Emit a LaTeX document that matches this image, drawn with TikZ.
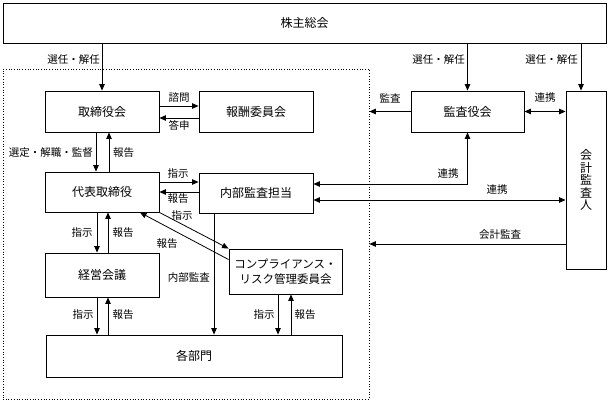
\documentclass[tikz,border=0pt]{standalone}
\usepackage{fontspec}
\setmainfont{Noto Sans CJK JP}
\usetikzlibrary{arrows.meta,calc}
\begin{document}
\begin{tikzpicture}[x=1pt,y=-1pt,
  box/.style={draw, line width=0.9pt, inner sep=0pt, font=\fontsize{12}{14}\selectfont},
  lbl/.style={font=\fontsize{10.5}{12}\selectfont, inner sep=1pt},
  arr/.style={line width=0.8pt, -{Triangle[length=6.5pt,width=5.5pt]}},
  darr/.style={line width=0.8pt, {Triangle[length=6.5pt,width=5.5pt]}-{Triangle[length=6.5pt,width=5.5pt]}}]
\useasboundingbox (0,0) rectangle (610,401);
% group
\node[draw, dotted, line width=0.7pt, minimum width=366, minimum height=330, inner sep=0pt] (grp) at (186,234) {};
% boxes
\node[box, minimum width=603, minimum height=40] (top) at (304.5,23) {株主総会};
\node[box, minimum width=114, minimum height=41] (bd) at (102,111.5) {取締役会};
\node[box, minimum width=114, minimum height=41] (rem) at (256,111.5) {報酬委員会};
\node[box, minimum width=114, minimum height=40] (ceo) at (102,192) {代表取締役};
\node[box, minimum width=114, minimum height=40] (ia) at (256,193) {内部監査担当};
\node[box, minimum width=114, minimum height=44] (mgmt) at (102,275) {経営会議};
\node[box, minimum width=113, minimum height=45, align=center, font=\fontsize{11.5}{15}\selectfont] (comp) at (285.5,271.5) {コンプライアンス・\\リスク管理委員会};
\node[box, minimum width=296, minimum height=42] (depts) at (194,356) {各部門};
\node[box, minimum width=113, minimum height=41] (aud) at (467.5,111.5) {監査役会};
\node[box, minimum width=40, minimum height=178, align=center, font=\fontsize{12}{12.5}\selectfont] (ext) at (586,180) {会\\計\\監\\査\\人};
% shareholders
\draw[arr] (bd.north |- top.south) -- (bd.north);
\draw[arr] (aud.north |- top.south) -- (aud.north);
\coordinate (e1) at ($(ext.north)+(-5,0)$);
\draw[arr] (e1 |- top.south) -- (e1);
\node[lbl, anchor=east] at (101,60) {選任・解任};
\node[lbl, anchor=east] at (466,60) {選任・解任};
\node[lbl, anchor=east] at (579,60) {選任・解任};
% board - remuneration
\draw[arr] ($(bd.east)+(0,-5.5)$) -- ($(rem.west)+(0,-5.5)$);
\draw[arr] ($(rem.west)+(0,6.5)$) -- ($(bd.east)+(0,6.5)$);
\node[lbl] at (179,98) {諮問};
\node[lbl] at (179,125) {答申};
% board - ceo
\draw[arr] ($(bd.south)+(-6,0)$) -- ($(ceo.north)+(-6,0)$);
\draw[arr] ($(ceo.north)+(7,0)$) -- ($(bd.south)+(7,0)$);
\node[lbl, anchor=east] at (94,153) {選定・解職・監督};
\node[lbl, anchor=west] at (112,153) {報告};
% ceo - internal audit
\draw[arr] ($(ceo.east)+(0,-10)$) -- ($(ceo.east -| ia.west)+(0,-10)$);
\draw[arr] (ia.west |- ceo.east) -- (ceo.east);
\node[lbl] at (178,174) {指示};
\node[lbl] at (178,199) {報告};
% ceo - compliance
\draw[arr] (ceo.south east) -- (comp.north west);
\draw[arr] ($(comp.north west)+(0,11)$) -- ($(ceo.south)+(38,0)$);
\node[lbl] at (182,216) {指示};
\node[lbl] at (167,244) {報告};
% ceo - mgmt
\draw[arr] ($(ceo.south)+(-5,0)$) -- ($(mgmt.north)+(-5,0)$);
\draw[arr] ($(mgmt.north)+(6,0)$) -- ($(ceo.south)+(6,0)$);
\node[lbl] at (82,233) {指示};
\node[lbl] at (123,233) {報告};
% mgmt - depts
\draw[arr] ($(mgmt.south)+(-5,0)$) -- ($(mgmt.south |- depts.north)+(-5,0)$);
\draw[arr] ($(mgmt.south |- depts.north)+(6,0)$) -- ($(mgmt.south)+(6,0)$);
\node[lbl] at (83,315) {指示};
\node[lbl] at (123,315) {報告};
% internal audit - depts
\draw[arr] ($(ia.south)+(-42,0)$) -- ($(ia.south |- depts.north)+(-42,0)$);
\node[lbl, anchor=east] at (211,278) {内部監査};
% compliance - depts
\draw[arr] ($(comp.south)+(-7.5,0)$) -- ($(comp.south |- depts.north)+(-7.5,0)$);
\draw[arr] ($(comp.south |- depts.north)+(5.5,0)$) -- ($(comp.south)+(5.5,0)$);
\node[lbl] at (264,315) {指示};
\node[lbl] at (305,315) {報告};
% auditors
\draw[arr] (aud.west) -- (aud.west -| grp.east);
\node[lbl] at (390,98) {監査};
\draw[darr] (aud.east) -- (aud.east -| ext.west);
\node[lbl] at (545,98) {連携};
\draw[darr] ($(ia.east)+(0,-9)$) -| (aud.south);
\node[lbl] at (448,174) {連携};
\draw[darr] ($(ia.east)+(0,7)$) -- ($(ia.east -| ext.west)+(0,7)$);
\node[lbl] at (497,190) {連携};
\draw[arr] ($(ext.west)+(0,64)$) -- ($(ext.west -| grp.east)+(0,64)$);
\node[lbl] at (500,235) {会計監査};
\end{tikzpicture}
\end{document}
